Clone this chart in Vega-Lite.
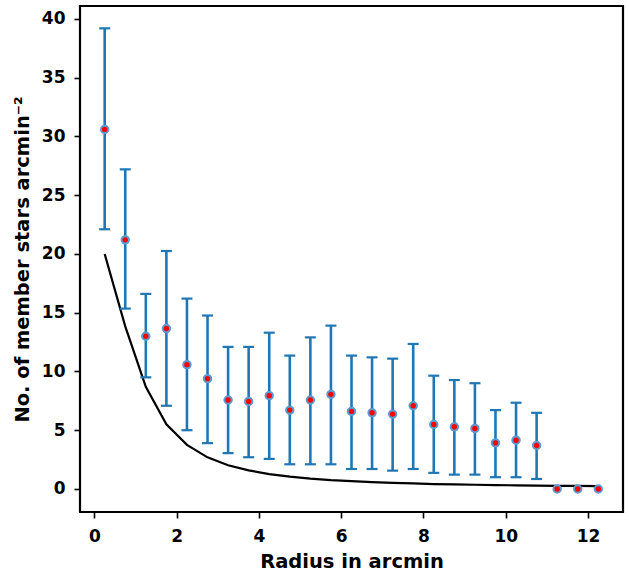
{
  "$schema": "https://vega.github.io/schema/vega-lite/v6.json",
  "width": 543,
  "height": 506,
  "autosize": "none",
  "padding": {"left": 80, "top": 6, "right": 6, "bottom": 66},
  "background": "white",
  "config": {
    "view": {"stroke": "#000000", "strokeWidth": 2.2},
    "font": "DejaVu Sans",
    "axis": {
      "domain": false,
      "grid": false,
      "tickColor": "#000000",
      "tickSize": 6,
      "tickWidth": 1.6,
      "labelFont": "DejaVu Sans",
      "labelFontWeight": "bold",
      "labelFontSize": 17,
      "labelColor": "#000000",
      "titleFont": "DejaVu Sans",
      "titleFontWeight": "bold",
      "titleFontSize": 19.5,
      "titleColor": "#000000"
    }
  },
  "datasets": {
    "obs": [
      {"r": 0.25, "d": 30.6, "lo": 22.1, "hi": 39.2},
      {"r": 0.75, "d": 21.2, "lo": 15.35, "hi": 27.2},
      {"r": 1.25, "d": 13.0, "lo": 9.5, "hi": 16.6},
      {"r": 1.75, "d": 13.65, "lo": 7.08, "hi": 20.25},
      {"r": 2.25, "d": 10.58, "lo": 5.0, "hi": 16.2},
      {"r": 2.75, "d": 9.39, "lo": 3.9, "hi": 14.76},
      {"r": 3.25, "d": 7.57, "lo": 3.05, "hi": 12.09},
      {"r": 3.75, "d": 7.45, "lo": 2.7, "hi": 12.09},
      {"r": 4.25, "d": 7.94, "lo": 2.56, "hi": 13.3},
      {"r": 4.75, "d": 6.71, "lo": 2.1, "hi": 11.35},
      {"r": 5.25, "d": 7.57, "lo": 2.1, "hi": 12.9},
      {"r": 5.75, "d": 8.05, "lo": 2.1, "hi": 13.9},
      {"r": 6.25, "d": 6.6, "lo": 1.7, "hi": 11.35},
      {"r": 6.75, "d": 6.48, "lo": 1.7, "hi": 11.2},
      {"r": 7.25, "d": 6.37, "lo": 1.56, "hi": 11.09},
      {"r": 7.75, "d": 7.08, "lo": 1.7, "hi": 12.34},
      {"r": 8.25, "d": 5.49, "lo": 1.37, "hi": 9.64},
      {"r": 8.75, "d": 5.29, "lo": 1.22, "hi": 9.27},
      {"r": 9.25, "d": 5.15, "lo": 1.22, "hi": 9.0},
      {"r": 9.75, "d": 3.92, "lo": 1.0, "hi": 6.71},
      {"r": 10.25, "d": 4.15, "lo": 1.0, "hi": 7.34},
      {"r": 10.75, "d": 3.7, "lo": 0.85, "hi": 6.48},
      {"r": 11.25, "d": 0, "lo": 0, "hi": 0},
      {"r": 11.75, "d": 0, "lo": 0, "hi": 0},
      {"r": 12.25, "d": 0, "lo": 0, "hi": 0}
    ],
    "fit": [
      {"r": 0.25, "f": 20.0},
      {"r": 0.75, "f": 13.84},
      {"r": 1.25, "f": 8.7},
      {"r": 1.75, "f": 5.5},
      {"r": 2.25, "f": 3.75},
      {"r": 2.75, "f": 2.69},
      {"r": 3.25, "f": 2.02},
      {"r": 3.75, "f": 1.58},
      {"r": 4.25, "f": 1.27},
      {"r": 4.75, "f": 1.05},
      {"r": 5.25, "f": 0.88},
      {"r": 5.75, "f": 0.75},
      {"r": 6.25, "f": 0.66},
      {"r": 6.75, "f": 0.58},
      {"r": 7.25, "f": 0.52},
      {"r": 7.75, "f": 0.47},
      {"r": 8.25, "f": 0.42},
      {"r": 8.75, "f": 0.39},
      {"r": 9.25, "f": 0.36},
      {"r": 9.75, "f": 0.33},
      {"r": 10.25, "f": 0.31},
      {"r": 10.75, "f": 0.29},
      {"r": 11.25, "f": 0.27},
      {"r": 11.75, "f": 0.26},
      {"r": 12.25, "f": 0.25}
    ]
  },
  "layer": [
    {
      "data": {"name": "fit"},
      "mark": {"type": "line", "color": "#000000", "strokeWidth": 2.2},
      "encoding": {
        "x": {
          "field": "r", "type": "quantitative",
          "scale": {"domain": [-0.35, 12.85], "nice": false, "zero": false},
          "axis": {"values": [0, 2, 4, 6, 8, 10, 12], "title": "Radius in arcmin", "labelPadding": 10, "titlePadding": 8, "labelFlush": false}
        },
        "y": {
          "field": "f", "type": "quantitative",
          "scale": {"domain": [-1.96, 41.1], "nice": false, "zero": false},
          "axis": {"values": [0, 5, 10, 15, 20, 25, 30, 35, 40], "title": "No. of member stars arcmin⁻²", "labelPadding": 9, "titlePadding": 9, "labelFlush": false}
        }
      }
    },
    {
      "data": {"name": "obs"},
      "transform": [{"filter": "datum.hi > datum.lo"}],
      "mark": {"type": "rule", "color": "#1f77b4", "strokeWidth": 2.6},
      "encoding": {
        "x": {"field": "r", "type": "quantitative"},
        "y": {"field": "lo", "type": "quantitative"},
        "y2": {"field": "hi"}
      }
    },
    {
      "data": {"name": "obs"},
      "transform": [{"filter": "datum.hi > datum.lo"}],
      "mark": {"type": "tick", "orient": "horizontal", "color": "#1f77b4", "size": 11, "thickness": 2.2, "opacity": 1},
      "encoding": {
        "x": {"field": "r", "type": "quantitative"},
        "y": {"field": "lo", "type": "quantitative"}
      }
    },
    {
      "data": {"name": "obs"},
      "transform": [{"filter": "datum.hi > datum.lo"}],
      "mark": {"type": "tick", "orient": "horizontal", "color": "#1f77b4", "size": 11, "thickness": 2.2, "opacity": 1},
      "encoding": {
        "x": {"field": "r", "type": "quantitative"},
        "y": {"field": "hi", "type": "quantitative"}
      }
    },
    {
      "data": {"name": "obs"},
      "mark": {"type": "point", "shape": "circle", "filled": true, "fill": "#ff0000", "stroke": "#5b9bd0", "strokeWidth": 2, "size": 55, "opacity": 1},
      "encoding": {
        "x": {"field": "r", "type": "quantitative"},
        "y": {"field": "d", "type": "quantitative"}
      }
    }
  ]
}
